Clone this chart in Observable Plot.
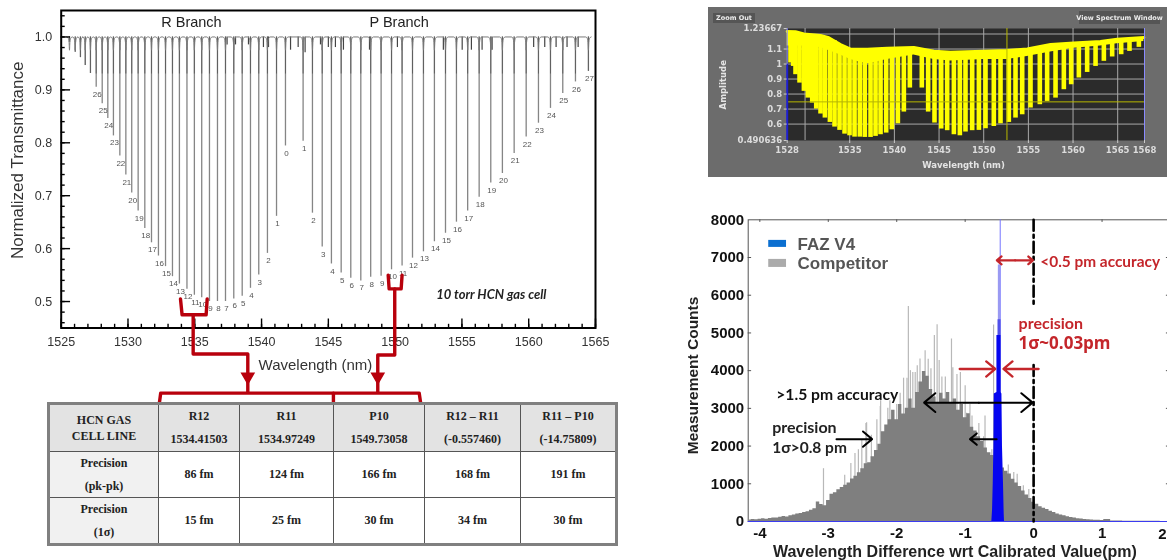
<!DOCTYPE html>
<html><head><meta charset="utf-8">
<script src="https://cdn.jsdelivr.net/npm/d3@7"></script>
<script src="https://cdn.jsdelivr.net/npm/@observablehq/plot@0.6"></script>
<style>
html,body{margin:0;padding:0;background:#fff}
#page{position:relative;width:1167px;height:560px;overflow:hidden;background:#fff}
#page>.p{position:absolute}
#page svg{background:transparent;display:block;overflow:visible;max-width:none}
.blur{filter:blur(.35px)}
table{border-collapse:collapse;table-layout:fixed;font:bold 12px "Liberation Serif";color:#222;text-align:center;box-sizing:border-box}
td{border:1px solid #555;padding:0;overflow:hidden}
.btn{position:absolute;background:#555;color:#eee;font:bold 6.5px "DejaVu Sans";display:flex;align-items:center;justify-content:center;white-space:nowrap}
</style></head><body><div id="page"></div>
<script>
// ---- HCN reference spectrum: line centres (nm) and minimum transmittance
const rJ   = [26,25,24,23,22,21,20,19,18,17,16,15,14,13,12,11,10,9,8,7,6,5,4,3,2,1,0];
const rNm  = [1527.62,1528.07,1528.49,1528.91,1529.39,1529.84,1530.28,1530.76,1531.26,1531.76,1532.28,1532.81,1533.33,1533.85,1534.415,1534.97,1535.52,1536.10,1536.70,1537.30,1537.92,1538.55,1539.17,1539.79,1540.44,1541.12,1541.79];
const rMin = [.905,.874,.846,.813,.775,.739,.705,.671,.638,.611,.586,.566,.547,.533,.523,.512,.507,.50,.50,.50,.505,.51,.525,.55,.591,.661,.794];
const pJ   = [1,2,3,4,5,6,7,8,9,10,11,12,13,14,15,16,17,18,19,20,21,22,23,24,25,26,27];
const pNm  = [1543.11,1543.81,1544.54,1545.23,1545.96,1546.68,1547.43,1548.17,1548.95,1549.73,1550.52,1551.30,1552.12,1552.94,1553.77,1554.59,1555.43,1556.29,1557.16,1558.03,1558.91,1559.81,1560.73,1561.63,1562.55,1563.50,1564.47];
const pMin = [.803,.667,.603,.571,.554,.544,.539,.546,.548,.56,.567,.582,.594,.613,.629,.65,.671,.697,.724,.742,.78,.811,.837,.865,.893,.915,.935];
const weakNm  = [1525.62,1526.05,1526.44,1526.80,1527.19];
const weakMin = [.99,.971,.961,.946,.931];
const hotNm  = [1537.42,1538.05,1539.02,1540.14,1540.52,1542.17,1542.74,1543.26,1544.41,1545.0,1545.53,1546.13,1548.08,1550.17,1553.61,1555.02,1555.71,1556.51,1557.26,1560.37,1561.2,1562.05,1562.87,1563.7];
const hotMin = [.985,.985,.985,.98,.98,.975,.98,.97,.985,.98,.98,.975,.975,.98,.975,.975,.975,.975,.975,.98,.98,.98,.98,.98];
const xMajor = [1525,1530,1535,1540,1545,1550,1555,1560,1565];
const yMajor = [.5,.6,.7,.8,.9,1.0];
const branchLabels = ["R Branch","P Branch"]; const branchNm = [1534.75,1550.3];
// red connectors, in wavelength / transmittance units
const redBracket = [
 {g:"a",x:1533.93,y:.505},{g:"a",x:1534.05,y:.475},{g:"a",x:1535.85,y:.475},{g:"a",x:1535.93,y:.505},
 {g:"b",x:1534.88,y:.475},{g:"b",x:1534.88,y:.401},{g:"b",x:1538.97,y:.401},{g:"b",x:1538.97,y:.329},
 {g:"c",x:1549.48,y:.55},{g:"c",x:1549.55,y:.524},{g:"c",x:1550.45,y:.524},{g:"c",x:1550.52,y:.55},
 {g:"d",x:1549.97,y:.524},{g:"d",x:1549.97,y:.399},{g:"d",x:1548.7,y:.399},{g:"d",x:1548.7,y:.329},
 {g:"e",x:1532.36,y:.31},{g:"e",x:1532.45,y:.327},{g:"e",x:1551.8,y:.327},{g:"e",x:1551.9,y:.31},
 {g:"f",x:1545.38,y:.327},{g:"f",x:1545.38,y:.31}];
const redTips = [{x:1538.97,y:.358},{x:1548.7,y:.358}];

// ---- table
const tableHead = [["HCN GAS","CELL LINE"],["R12","1534.41503"],["R11","1534.97249"],["P10","1549.73058"],["R12 – R11","(-0.557460)"],["R11 – P10","(-14.75809)"]];
const rowPkPk = ["86 fm","124 fm","166 fm","168 fm","191 fm"];
const rowSigma = ["15 fm","25 fm","30 fm","34 fm","30 fm"];
const rowNames = [["Precision","(pk-pk)"],["Precision","(1σ)"]];
const colWidths = [110,81,94,91,96,96];

// ---- amplitude spectrum
const envNm = [1528,1528.93,1529.87,1531.73,1532.66,1533.97,1535.09,1536.96,1539.19,1542.18,1544.42,1546.28,1550.01,1552.63,1554.87,1557.48,1560.09,1563.07,1564.94,1567.93];
const envHi = [1.217,1.215,1.20,1.19,1.175,1.13,1.10,1.098,1.105,1.11,1.085,1.078,1.085,1.09,1.10,1.13,1.14,1.15,1.165,1.177];
const envLo = [1.12,1.12,1.12,1.11,1.09,1.06,1.03,1.0,1.03,1.06,1.03,1.02,1.03,1.03,1.05,1.08,1.105,1.12,1.135,1.15];
const dipNm = [1528.37,1528.67,1528.93,1529.38,1529.87,1530.31,1530.80,1531.25,1531.73,1532.22,1532.78,1533.30,1533.86,1534.42,1534.98,1535.54,1536.13,1536.69,1537.33,1537.89,1538.45,1539.08,1539.72,1540.39,1541.06,1541.73,1543.07,1543.78,1544.49,1545.24,1545.91,1546.66,1547.33,1547.96,1548.71,1549.46,1550.20,1551.13,1551.88,1552.81,1553.56,1554.31,1555.24,1556.28,1557.10,1558.04,1558.97,1559.79,1560.65,1561.58,1562.52,1563.45,1564.38,1565.39,1566.32,1567.37];
const dipAmp = [1.007,.984,.929,.873,.818,.773,.74,.70,.667,.64,.611,.58,.558,.533,.522,.513,.513,.511,.511,.518,.529,.54,.562,.602,.68,.84,.84,.68,.607,.567,.556,.529,.522,.547,.556,.558,.569,.584,.602,.611,.64,.662,.707,.729,.751,.773,.829,.862,.907,.944,.984,1.018,1.047,1.062,1.084,1.111];
const specXTicks = [1528,1535,1540,1545,1550,1555,1560,1565,1568];
const specYTicks = [1.23667,1.1,1,.9,.8,.7,.6,.490636];
const specGridX = [1530,1535,1540,1545,1550,1555,1560,1565];
const specGridY = [1.2,1.1,1,.9,.8,.7,.6];

// ---- wavelength-difference histogram
const compX = [-4.15,-4.10,-4.05,-4.00,-3.95,-3.90,-3.85,-3.80,-3.75,-3.70,-3.65,-3.60,-3.55,-3.50,-3.45,-3.40,-3.35,-3.30,-3.25,-3.20,-3.15,-3.10,-3.05,-3.00,-2.95,-2.90,-2.85,-2.80,-2.75,-2.70,-2.65,-2.60,-2.55,-2.50,-2.45,-2.40,-2.35,-2.30,-2.25,-2.20,-2.15,-2.10,-2.05,-2.00,-1.95,-1.90,-1.85,-1.80,-1.75,-1.70,-1.65,-1.60,-1.55,-1.50,-1.45,-1.40,-1.35,-1.30,-1.25,-1.20,-1.15,-1.10,-1.05,-1.00,-.95,-.90,-.85,-.80,-.75,-.70,-.65,-.60,-.55,-.50,-.45,-.40,-.35,-.30,-.25,-.20,-.15,-.10,-.05,0,.05,.10,.15,.20,.25,.30,.35,.40,.45,.50,.55,.60,.65,.70,.75,.80,.85,.90,.95,1.0,1.05,1.2,1.4,1.7,2.0];
const compY = [40,50,45,60,70,60,80,95,90,110,130,120,150,170,200,210,240,260,300,340,520,450,420,560,720,760,840,900,960,1020,1130,1200,1290,1400,1530,1560,1720,1880,2050,2380,2560,2700,2950,2700,3100,2850,3000,3250,3000,3420,3700,3980,3850,3500,3300,3150,3400,3250,3420,3150,3250,2950,3100,2750,2860,2500,2400,2250,2120,1950,1820,1750,1690,1500,1420,1330,1260,1120,1020,930,810,700,610,510,460,390,350,320,270,240,200,170,150,125,105,90,75,65,55,45,40,35,30,28,50,15,8,5,0];
const spikeX = [-3.07,-2.76,-2.67,-2.61,-2.56,-2.51,-2.45,-2.44,-2.37,-2.29,-2.235,-2.24,-2.13,-2.10,-2.0,-1.95,-1.9,-1.85,-1.83,-1.80,-1.765,-1.73,-1.70,-1.66,-1.585,-1.54,-1.50,-1.45,-1.41,-1.38,-1.34,-1.29,-1.20,-1.18,-1.12,-1.07,-1.0,-.98,-.93,-.9,-.80,-.73,-.71,-.61,-.585,-.37,-.29,-.24,-.15,-.07];
const spikeY = [1400,1225,1536,1800,1900,2160,2600,2620,2290,2700,3200,3050,3000,3200,3100,3400,3800,3800,5700,4000,3950,3950,4130,4310,4530,4300,4050,4930,5220,4270,3830,3830,4840,4080,3900,3950,3600,2870,3100,2800,2600,2250,2800,1900,5210,1500,1300,1250,950,850];
const fazX = [-.61,-.60,-.59,-.58,-.575,-.536,-.536,-.477,-.477,-.463,-.455,-.44,-.43,-.425];
const fazY = [0,300,1000,2000,3380,3420,4930,4930,3420,3380,2000,1000,200,0];
const histXTicks = [-4,-3,-2,-1,0,1];
const histLastTick = ["2"];
const histYTicks = [0,1000,2000,3000,4000,5000,6000,7000,8000];

const page = document.getElementById("page");
function place(svg,left,top,cls){const d=document.createElement("div");d.className="p "+(cls||"");d.style.left=left+"px";d.style.top=top+"px";d.appendChild(svg);page.appendChild(d);return d;}
const SANS="Liberation Sans";
const zip=(xs,ys,k)=>xs.map((x,i)=>({x,y:ys[i],j:k?k[i]:null}));
const R=zip(rNm,rMin,rJ), P=zip(pNm,pMin,pJ), W=zip(weakNm,weakMin), H=zip(hotNm,hotMin);
const allLines=[...W,...R,...P].sort((a,b)=>a.x-b.x);
const profile=[];
allLines.forEach(l=>{profile.push({x:l.x-.2,y:1},{x:l.x-.1,y:.998},{x:l.x-.03,y:.99},{x:l.x,y:.975},{x:l.x+.03,y:.99},{x:l.x+.1,y:.998},{x:l.x+.2,y:1});});
const RED="#b8000c";
const range=(a,b,s)=>d3.range(Math.round((b-a)/s)+1).map(i=>+(a+i*s).toFixed(3));

// ---------- left chart
place(Plot.plot({
  width:600,height:403,marginLeft:60.7,marginRight:5,marginTop:10,marginBottom:75.5,
  style:{background:"transparent",fontFamily:SANS},
  x:{domain:[1525,1565],axis:null},y:{domain:[.45,1.05],axis:null},
  marks:[
    Plot.ruleX([...W,...R,...P],{x:"x",y1:1,y2:"y",stroke:"#858585",strokeWidth:1.3}),
    Plot.ruleX([...W,...R,...P],{x:"x",y1:1,y2:d=>Math.max(d.y,.93),stroke:"#555",strokeWidth:.8}),
    Plot.ruleX(H,{x:"x",y1:1,y2:"y",stroke:"#444",strokeWidth:1.2}),
    Plot.lineY(profile,{x:"x",y:"y",stroke:"#7a7a7a",strokeWidth:1,curve:"monotone-x"}),
    Plot.text([...R,...P],{x:"x",y:"y",text:"j",dy:7,dx:1,fontSize:8,fill:"#555"}),
    Plot.frame({stroke:"#000",strokeWidth:2}),
    Plot.ruleX(range(1525,1565,1),{x:d=>d,y1:.45,y2:.457,stroke:"#000",strokeWidth:1.4}),
    Plot.ruleX(xMajor,{x:d=>d,y1:.45,y2:.467,stroke:"#000",strokeWidth:1.4}),
    Plot.ruleY(range(.46,1.04,.02),{y:d=>d,x1:1525,x2:1525.3,stroke:"#000",strokeWidth:1.4}),
    Plot.ruleY(yMajor,{y:d=>d,x1:1525,x2:1525.7,stroke:"#000",strokeWidth:1.4}),
    Plot.axisX({anchor:"bottom",ticks:xMajor,tickSize:0,tickPadding:9,tickFormat:d=>String(d),label:null,fontSize:12.5,fill:"#333"}),
    Plot.axisY({anchor:"left",ticks:yMajor,tickSize:0,tickPadding:9,tickFormat:d=>d.toFixed(1),label:null,fontSize:12.5,fill:"#333"}),
    Plot.text(branchLabels,{x:(d,i)=>branchNm[i],y:1.027,text:d=>d,fontSize:14.5,fill:"#222"}),
    Plot.text(["10 torr HCN gas cell"],{x:1557.2,y:.512,text:d=>d,fontSize:13,fontStyle:"italic",fontWeight:700,fontFamily:"Lato",fill:"#222"}),
    Plot.text(["Normalized Transmittance"],{x:1521.73,y:.767,text:d=>d,rotate:-90,fontSize:17,fill:"#333"}),
    Plot.text(["Wavelength (nm)"],{x:1544.03,y:.38,text:d=>d,fontSize:15,fill:"#333"}),
    Plot.line(redBracket,{x:"x",y:"y",z:"g",stroke:RED,strokeWidth:3.4,strokeLinejoin:"round"}),
    Plot.dot(redTips,{x:"x",y:"y",symbol:"triangle",rotate:180,r:4.5,fill:RED,stroke:RED})
  ]
}),0,0,"blur");

// ---------- table (built from the arrays)
(function(){
  const d=document.createElement("div");d.className="p";d.style.cssText="left:47px;top:402px";
  const t=document.createElement("table");t.style.cssText="width:568px;height:142px;border:3px solid #808080";
  const cg=document.createElement("colgroup");colWidths.forEach(w=>{const c=document.createElement("col");c.style.width=w+"px";cg.appendChild(c)});t.appendChild(cg);
  const tr=(hh)=>{const r=document.createElement("tr");r.style.height=hh+"px";return r};
  const h=tr(48);tableHead.forEach((c,i)=>{const td=document.createElement("td");td.style.background="#e3e3e3";td.style.lineHeight=i?"23px":"16px";td.innerHTML=c.join("<br>");h.appendChild(td)});t.appendChild(h);
  [rowPkPk,rowSigma].forEach((row,k)=>{const r=tr(46);const n=document.createElement("td");n.style.background="#f1f1f1";n.style.lineHeight="22.5px";n.innerHTML=rowNames[k].join("<br>");r.appendChild(n);
    row.forEach(v=>{const td=document.createElement("td");td.textContent=v;r.appendChild(td)});t.appendChild(r)});
  d.appendChild(t);page.appendChild(d);
})();

// ---------- spectrum panel
const YEL="#ffff00";
const env=envNm.map((x,i)=>({x,hi:envHi[i],lo:envLo[i]}));
const dips=dipNm.map((x,i)=>{const near=d3.least(env,e=>Math.abs(e.x-x));return {x,y:dipAmp[i],top:near.hi-.02}});
place(Plot.plot({
  width:459,height:170,marginLeft:78.7,marginRight:23,marginTop:21,marginBottom:37,
  style:{background:"#6c6c6c",fontFamily:"DejaVu Sans"},
  x:{domain:[1528,1568],axis:null},y:{domain:[.490636,1.23667],axis:null},
  marks:[
    Plot.frame({fill:"#2b2b2b",stroke:"none"}),
    Plot.ruleX(specGridX,{x:d=>d,stroke:"#a8a8a8",strokeWidth:1}),
    Plot.ruleY(specGridY,{y:d=>d,stroke:"#a8a8a8",strokeWidth:1}),
    Plot.ruleX(dips,{x:"x",y1:"y",y2:"top",stroke:YEL,strokeWidth:4.6}),
    Plot.areaY(env,{x:"x",y1:"lo",y2:"hi",fill:YEL}),
    Plot.line(env,{x:"x",y:"hi",stroke:YEL,strokeWidth:3}),
    Plot.ruleY([.748],{stroke:"#b8b800",strokeWidth:1}),
    Plot.ruleX([1552.6],{stroke:"#b8b800",strokeWidth:1}),
    Plot.ruleX([1528],{y1:.490636,y2:1.0,stroke:"#1f1fd0",strokeWidth:2}),
    Plot.ruleX([1528],{y1:1.0,y2:1.23667,stroke:"#8a8aff",strokeWidth:1}),
    Plot.ruleX([1568],{stroke:"#8a8aff",strokeWidth:1}),
    Plot.axisX({anchor:"bottom",ticks:specXTicks,tickSize:3,tickPadding:3,tickFormat:d=>String(d),label:null,fontSize:8.5,fontWeight:700,fill:"#dcdcdc",stroke:"#ccc"}),
    Plot.axisY({anchor:"left",ticks:specYTicks,tickSize:3,tickPadding:2,tickFormat:d=>String(d),label:null,fontSize:8.5,fontWeight:700,fill:"#dcdcdc",stroke:"#ccc"}),
    Plot.text(["Amplitude"],{x:1520.83,y:.862,text:d=>d,rotate:-90,fontSize:8.5,fontWeight:700,fill:"#e4e4e4"}),
    Plot.text(["Wavelength (nm)"],{x:1547.74,y:.329,text:d=>d,fontSize:8.5,fontWeight:700,fill:"#e4e4e4"})
  ]
}),708,7,"blur");
[["Zoom Out",713,13,42,10],["View Spectrum Window",1079,11,81,13]].forEach(([s,l,t,w,h])=>{
  const b=document.createElement("div");b.className="btn blur";b.textContent=s;b.style.cssText=`left:${l}px;top:${t}px;width:${w}px;height:${h}px`;page.appendChild(b);});

// ---------- histogram
const comp=zip(compX,compY), spikes=zip(spikeX,spikeY), faz=zip(fazX,fazY);
const DK="#7f7f7f", CRED="#c4262b", HF="Lato";
const arrow=(x1,x2,y,stroke,w)=>Plot.arrow([{x1,x2,y}],{x1:"x1",x2:"x2",y1:"y",y2:"y",stroke,strokeWidth:w,headLength:11,headAngle:80,bend:0});
place(Plot.plot({
  width:500,height:360,marginLeft:67.7,marginRight:10,marginTop:19.3,marginBottom:39,
  style:{background:"transparent",fontFamily:SANS},
  x:{domain:[-4.17,2],axis:null},y:{domain:[0,8000],axis:null},
  marks:[
    Plot.ruleX(spikes,{x:"x",y1:0,y2:"y",stroke:"#b8b8b8",strokeWidth:1.2}),
    Plot.area(comp,{x1:"x",y1:0,y2:"y",fill:DK,curve:"step"}),
    Plot.frame({stroke:"#555",strokeWidth:1}),
    Plot.ruleX([-.488],{y1:0,y2:8000,stroke:"#7474ff",strokeWidth:1}),
    Plot.ruleX([-.505],{y1:0,y2:6800,stroke:"#9a9af2",strokeWidth:2.4}),
    Plot.ruleX([-.505],{y1:0,y2:5350,stroke:"#5050ea",strokeWidth:3}),
    Plot.area(faz,{x1:"x",y1:0,y2:"y",fill:"#0505f0"}),
    Plot.ruleY([0],{stroke:"#3b3bf0",strokeWidth:1.2}),
    Plot.ruleX([...histXTicks,2],{x:d=>d,y1:8000,y2:7930,stroke:"#555"}),
    Plot.ruleY(histYTicks.slice(1,-1),{y:d=>d,x1:1.94,x2:2,stroke:"#555"}),
    Plot.ruleY(histYTicks.slice(1,-1),{y:d=>d,x1:-4.17,x2:-4.12,stroke:"#555"}),
    Plot.line([{x:0,y:8000},{x:0,y:5700}],{x:"x",y:"y",stroke:"#000",strokeWidth:2.6,strokeDasharray:"11,4,3,4"}),
    Plot.line([{x:0,y:4150},{x:0,y:0}],{x:"x",y:"y",stroke:"#000",strokeWidth:2.6,strokeDasharray:"11,4,3,4"}),
    Plot.axisX({anchor:"bottom",ticks:histXTicks,tickSize:0,tickPadding:6,label:null,fontSize:15,fontWeight:700,fill:"#111",tickFormat:d=>String(d)}),
    Plot.text(histLastTick,{x:2,y:0,text:d=>d,textAnchor:"end",lineAnchor:"top",dx:-4,dy:7,fontSize:15,fontWeight:700,fill:"#111"}),
    Plot.axisY({anchor:"left",ticks:histYTicks,tickSize:0,tickPadding:4,label:null,fontSize:15,fontWeight:700,fill:"#111",tickFormat:d=>String(d)}),
    Plot.text(["Measurement Counts"],{x:-4.98,y:3873,text:d=>d,rotate:-90,fontSize:15.5,fontWeight:700,fill:"#222"}),
    Plot.text(["Wavelength Difference wrt Calibrated Value(pm)"],{x:-1.15,y:-814,text:d=>d,fontSize:16,fontWeight:700,fill:"#222"}),
    Plot.rect([{a:-3.87,b:-3.61,c:7268,d:7454}],{x1:"a",x2:"b",y1:"c",y2:"d",fill:"#0b6fd0"}),
    Plot.rect([{a:-3.87,b:-3.61,c:6737,d:6950}],{x1:"a",x2:"b",y1:"c",y2:"d",fill:"#ababab"}),
    Plot.text(["FAZ V4","Competitor"],{x:-3.45,y:(d,i)=>i?6843:7347,text:d=>d,textAnchor:"start",fontSize:17,fontWeight:700,fill:"#555"}),
    arrow(-.27,-.537,6925,CRED,2.3),arrow(-.27,-.01,6925,CRED,2.3),
    arrow(-1.08,-.56,4044,CRED,2.3),arrow(.073,-.44,4044,CRED,2.3),
    Plot.text(["<0.5 pm accuracy"],{x:.098,y:6878,text:d=>d,textAnchor:"start",fontSize:15.4,fontWeight:700,fontFamily:HF,fill:CRED}),
    Plot.text(["precision"],{x:-.22,y:5240,text:d=>d,textAnchor:"start",fontSize:16,fontWeight:700,fontFamily:HF,fill:CRED}),
    Plot.text(["1σ~0.03pm"],{x:-.22,y:4710,text:d=>d,textAnchor:"start",fontSize:17,fontWeight:700,fontFamily:"Open Sans",fill:CRED}),
    Plot.text([">1.5 pm accuracy"],{x:-3.76,y:3356,text:d=>d,textAnchor:"start",fontSize:15.7,fontWeight:700,fontFamily:HF,fill:"#111"}),
    Plot.text(["precision"],{x:-3.82,y:2486,text:d=>d,textAnchor:"start",fontSize:16,fontWeight:700,fontFamily:HF,fill:"#222"}),
    Plot.text(["1σ>0.8 pm"],{x:-3.82,y:1936,text:d=>d,textAnchor:"start",fontSize:15.5,fontWeight:700,fontFamily:HF,fill:"#222"}),
    arrow(-.8,-1.6,3152,"#000",2),arrow(-.8,-.015,3152,"#000",2),
    arrow(-2.88,-2.36,2184,"#000",2),arrow(-.54,-.93,2184,"#000",2)
  ]
}),680,200,"blur");
</script></body></html>
